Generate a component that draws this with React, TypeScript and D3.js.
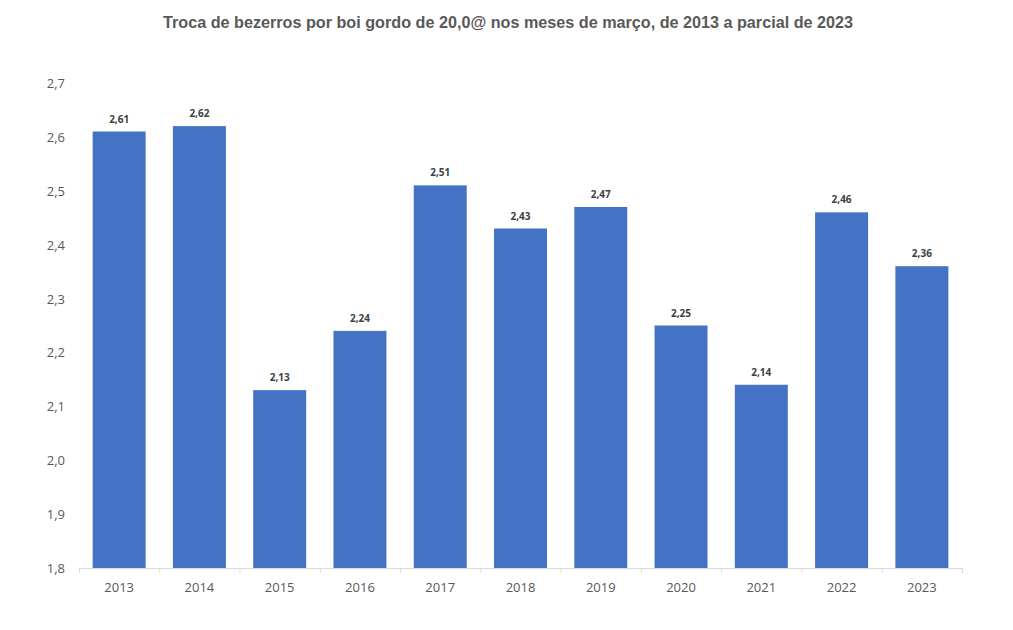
import { useEffect, useRef } from 'react';
import * as d3 from 'd3';

const years = ['2013', '2014', '2015', '2016', '2017', '2018', '2019', '2020', '2021', '2022', '2023'];
const values = [2.61, 2.62, 2.13, 2.24, 2.51, 2.43, 2.47, 2.25, 2.14, 2.46, 2.36];
const yTicks = [1.8, 1.9, 2.0, 2.1, 2.2, 2.3, 2.4, 2.5, 2.6, 2.7];
const title = 'Troca de bezerros por boi gordo de 20,0@ nos meses de março, de 2013 a parcial de 2023';

const fmt = (v: number, d: number) => v.toFixed(d).replace('.', ',');

export default function App() {
  const svgRef = useRef<SVGSVGElement>(null);
  const width = 1013;
  const height = 630;

  useEffect(() => {
    if (!svgRef.current) return;
    const svg = d3.select(svgRef.current);
    svg.selectAll('*').remove();

    const left = 79, right = 962, top = 83, bottom = 568;

    const x = d3.scaleBand().domain(years).range([left, right]).paddingInner(0.34).paddingOuter(0.17);
    const y = d3.scaleLinear().domain([1.8, 2.7]).range([bottom, top]);

    // Title
    svg.append('text')
      .attr('x', 508)
      .attr('y', 28)
      .attr('text-anchor', 'middle')
      .attr('textLength', 690)
      .attr('lengthAdjust', 'spacingAndGlyphs')
      .style('font-family', 'Liberation Sans, Arial, sans-serif')
      .style('font-weight', 'bold')
      .style('font-size', '17px')
      .style('fill', '#595959')
      .text(title);

    // Y tick labels
    svg.append('g').selectAll('text')
      .data(yTicks)
      .enter().append('text')
      .attr('x', 65)
      .attr('y', d => y(d) + 5)
      .attr('text-anchor', 'end')
      .style('font-family', 'Open Sans, sans-serif')
      .style('font-size', '13px')
      .style('fill', '#595959')
      .text(d => fmt(d, 1));

    // Bars
    svg.append('g').selectAll('rect')
      .data(values)
      .enter().append('rect')
      .attr('x', (_, i) => x(years[i]) || 0)
      .attr('y', d => y(d))
      .attr('width', x.bandwidth())
      .attr('height', d => bottom - y(d))
      .attr('fill', '#4472C4');

    // Data labels
    svg.append('g').selectAll('text')
      .data(values)
      .enter().append('text')
      .attr('x', (_, i) => (x(years[i]) || 0) + x.bandwidth() / 2)
      .attr('y', d => y(d) - 9)
      .attr('text-anchor', 'middle')
      .style('font-family', 'Open Sans, sans-serif')
      .style('font-weight', 'bold')
      .style('font-size', '10px')
      .style('fill', '#404040')
      .text(d => fmt(d, 2));

    // X axis
    const step = x.step();
    svg.append('line')
      .attr('x1', left).attr('x2', right)
      .attr('y1', bottom + 0.5).attr('y2', bottom + 0.5)
      .attr('stroke', '#d9d9d9');
    svg.append('g').selectAll('line')
      .data(d3.range(years.length + 1))
      .enter().append('line')
      .attr('x1', i => left + i * step + 0.5)
      .attr('x2', i => left + i * step + 0.5)
      .attr('y1', bottom)
      .attr('y2', bottom + 5)
      .attr('stroke', '#d9d9d9');

    svg.append('g').selectAll('text')
      .data(years)
      .enter().append('text')
      .attr('x', d => (x(d) || 0) + x.bandwidth() / 2)
      .attr('y', bottom + 24)
      .attr('text-anchor', 'middle')
      .style('font-family', 'Open Sans, sans-serif')
      .style('font-size', '13px')
      .style('fill', '#595959')
      .text(d => d);
  }, []);

  return (
    <svg ref={svgRef} width={width} height={height}
      style={{ position: 'absolute', left: 0, top: 0, background: '#fff' }} />
  );
}
